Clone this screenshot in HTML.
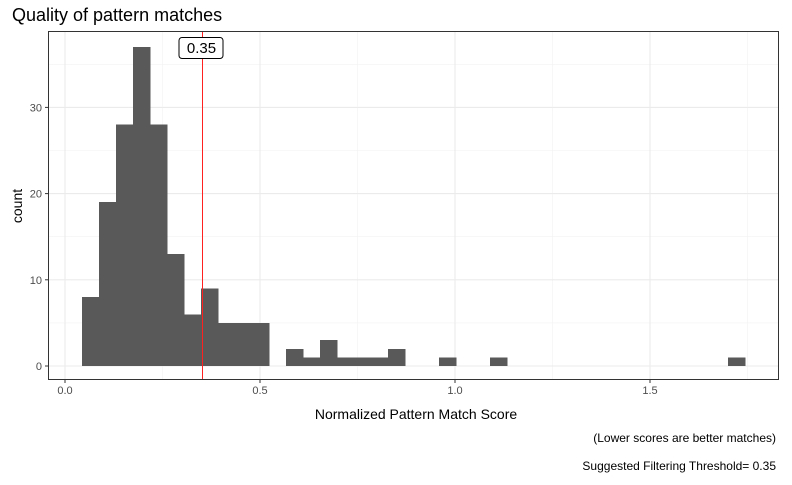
<!DOCTYPE html>
<html><head><meta charset="utf-8"><style>
body{margin:0;background:#fff;font-family:"Liberation Sans",sans-serif;}
svg text{font-family:"Liberation Sans",sans-serif;}
</style></head><body>
<svg id="chart" width="792" height="480">
<text x="12" y="21" font-size="18" fill="#000">Quality of pattern matches</text>
<rect x="48" y="31" width="731" height="349" fill="#fff" stroke="none"/>
<g id="grid"></g>
<g id="bars" shape-rendering="crispEdges"></g>
<g id="axes"></g>
<g id="overlay"></g>
<rect x="48.5" y="31.5" width="730" height="348" fill="none" stroke="#333" stroke-width="1"/>
<text x="416" y="419" font-size="14" text-anchor="middle" fill="#000">Normalized Pattern Match Score</text>
<text transform="translate(22,206) rotate(-90)" font-size="14" text-anchor="middle" fill="#000">count</text>
<text x="776" y="442" font-size="12" text-anchor="end" fill="#000">(Lower scores are better matches)</text>
<text x="776" y="470" font-size="12" text-anchor="end" fill="#000">Suggested Filtering Threshold= 0.35</text>
</svg>
<script>
const binStart = 0.0436;
const binWidth = 0.0436;
const counts = [8,19,28,37,28,13,6,9,5,5,5,0,2,1,3,1,1,1,2,0,0,1,0,0,1,0,0,0,0,0,0,0,0,0,0,0,0,0,1];
const xTicks = [0,0.5,1,1.5];
const xTickLabels = ["0.0","0.5","1.0","1.5"];
const yTicks = [0,10,20,30];
const threshold = 0.35;
const thresholdLabel = "0.35";

const NS="http://www.w3.org/2000/svg";
const X0=48,X1=779,Y0=31,Y1=380;
function sx(v){return 65+v*390;}
function sy(v){return 366-v*8.62;}
function mk(tag,attrs,parent){const e=document.createElementNS(NS,tag);for(const k in attrs)e.setAttribute(k,attrs[k]);parent.appendChild(e);return e;}
const grid=document.getElementById('grid'),bars=document.getElementById('bars'),axes=document.getElementById('axes'),overlay=document.getElementById('overlay');
for(let i=0;i<xTicks.length;i++){const m=xTicks[i]+0.25;if(sx(m)<X1){const l=mk('line',{x1:sx(m),x2:sx(m),y1:Y0,y2:Y1,stroke:'#f2f2f2','stroke-width':0.6},grid);

}}
for(let i=0;i<yTicks.length;i++){const m=yTicks[i]+5;const l=mk('line',{x1:X0,x2:X1,y1:sy(m),y2:sy(m),stroke:'#f2f2f2','stroke-width':0.6},grid);

}
xTicks.forEach((t,i)=>{const l=mk('line',{x1:sx(t),x2:sx(t),y1:Y0,y2:Y1,stroke:'#ebebeb','stroke-width':1.1},grid);


const tk=mk('line',{x1:sx(t),x2:sx(t),y1:Y1,y2:Y1+3,stroke:'#333'},axes);


const tx=mk('text',{x:sx(t),y:Y1+14,'font-size':11,'text-anchor':'middle',fill:'#4d4d4d'},axes);tx.textContent=xTickLabels[i];

});
yTicks.forEach(t=>{const l=mk('line',{x1:X0,x2:X1,y1:sy(t),y2:sy(t),stroke:'#ebebeb','stroke-width':1.1},grid);


const tk=mk('line',{x1:X0-3,x2:X0,y1:sy(t),y2:sy(t),stroke:'#333'},axes);


const tx=mk('text',{x:X0-6,y:sy(t)+4,'font-size':11,'text-anchor':'end',fill:'#4d4d4d'},axes);tx.textContent=String(t);

});
counts.forEach((c,i)=>{if(c<=0)return;const a=binStart+i*binWidth;const r=mk('rect',{x:sx(a),y:sy(c),width:sx(a+binWidth)-sx(a)+0.5,height:sy(0)-sy(c),fill:'#595959'},bars);

});
const tl=mk('rect',{x:Math.round(sx(threshold)),y:Y0,width:1,height:Y1-Y0,fill:'#ff2020'},overlay);


const lb=mk('rect',{x:sx(threshold)-22.5,y:37.5,width:44,height:21,rx:3,fill:'#fff',stroke:'#000','stroke-width':1},overlay);


const lt=mk('text',{x:sx(threshold),y:53,'font-size':15,'text-anchor':'middle',fill:'#000'},overlay);lt.textContent=thresholdLabel;


</script>
</body></html>
